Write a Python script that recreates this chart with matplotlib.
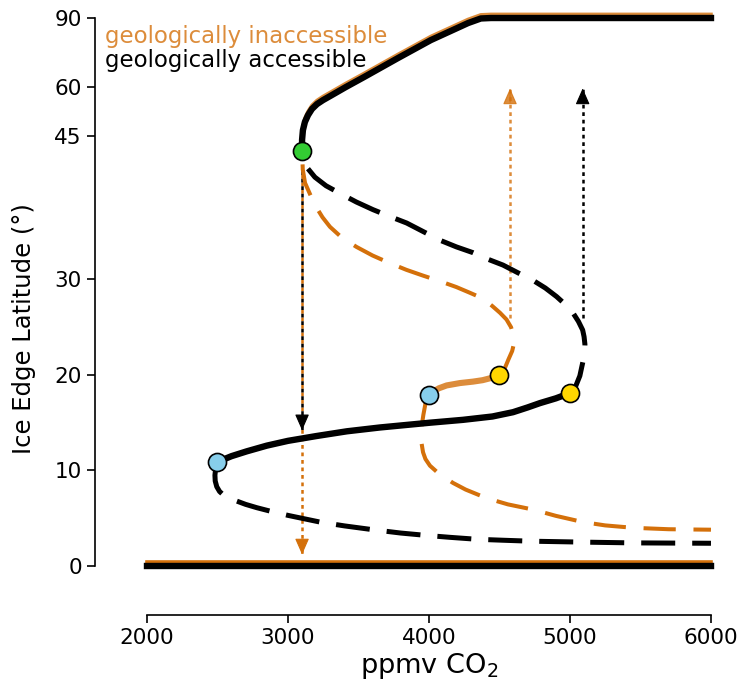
import numpy as np
import matplotlib.pyplot as plt
import matplotlib.transforms as mtransforms

# ice-edge latitude is drawn linearly up to 45 deg and squeezed above that
LAT_KNOTS = [0, 45, 60, 90]
LAT_POS = [0, 45, 50.13, 57.36]

def lat_fwd(y):
    y = np.asarray(y, dtype=float)
    out = np.interp(y, LAT_KNOTS, LAT_POS)
    out = np.where(y < 0, y, out)
    return np.where(y > 90, LAT_POS[-1] + (y - 90) * 0.241, out)

def lat_inv(p):
    p = np.asarray(p, dtype=float)
    out = np.interp(p, LAT_POS, LAT_KNOTS)
    out = np.where(p < 0, p, out)
    return np.where(p > LAT_POS[-1], 90 + (p - LAT_POS[-1]) / 0.241, out)

# warm branch (same for both cases) and the snowball branch
warm_co2 = [3100, 3100, 3106, 3120, 3142, 3170, 3206, 3248, 3305, 3410, 3538, 3780,
            4013, 4277, 4368, 4440, 6000]
warm_lat = [43.4, 44.6, 46.8, 49.3, 51.4, 53.3, 54.8, 56.0, 57.4, 60.0, 64.3, 72.6,
            80.4, 87.8, 89.8, 90.0, 90.0]
snow_co2 = [2000, 6000]
snow_lat = [0, 0]

# geologically accessible (black)
acc_stable_co2 = [2500, 2600, 2707, 2850, 3000, 3200, 3418, 3652, 4007, 4241, 4450,
                  4596, 4700, 4787, 4900, 5000]
acc_stable_lat = [10.9, 11.5, 12.0, 12.6, 13.1, 13.6, 14.1, 14.5, 15.0, 15.3, 15.65,
                  16.1, 16.6, 17.05, 17.55, 18.1]
acc_low_co2 = [2500, 2487, 2482, 2484, 2495, 2515, 2545, 2590, 2636, 2700, 2780, 2872,
               3000, 3227, 3400, 3603, 3800, 3983, 4150, 4338, 4520, 4716, 5092, 5447, 6000]
acc_low_lat = [10.9, 10.2, 9.5, 8.9, 8.3, 7.8, 7.4, 7.05, 6.8, 6.45, 6.1, 5.75,
               5.3, 4.6, 4.2, 3.8, 3.45, 3.2, 3.0, 2.8, 2.7, 2.6, 2.5, 2.42, 2.38]
acc_up_co2 = [5000, 5040, 5070, 5092, 5104, 5106, 5100, 5090, 5060, 5021, 4965, 4905,
              4825, 4738, 4630, 4525, 4420, 4312, 4195, 4078, 3960, 3842, 3720, 3603,
              3485, 3369, 3270, 3191, 3130, 3100]
acc_up_lat = [18.1, 18.8, 19.9, 21.4, 22.4, 23.2, 24.0, 24.7, 25.6, 26.5, 27.4, 28.2,
              29.1, 29.9, 30.7, 31.5, 32.1, 32.8, 33.4, 34.1, 35.0, 35.9, 36.6, 37.3,
              38.1, 39.0, 39.8, 40.7, 41.8, 43.4]

# geologically inaccessible (orange)
inacc_stable_co2 = [4000, 4030, 4070, 4125, 4220, 4312, 4380, 4433, 4500]
inacc_stable_lat = [17.9, 18.25, 18.6, 18.9, 19.15, 19.3, 19.45, 19.65, 20.0]
inacc_low_co2 = [4000, 3975, 3960, 3950, 3946, 3948, 3958, 3975, 4007, 4060, 4120,
                 4170, 4260, 4409, 4560, 4740, 4900, 5092, 5250, 5447, 5700, 6000]
inacc_low_lat = [17.9, 17.0, 15.8, 14.8, 13.8, 12.8, 11.9, 11.2, 10.5, 9.8, 9.2,
                 8.7, 8.0, 7.1, 6.45, 5.9, 5.25, 4.6, 4.25, 4.0, 3.85, 3.8]
inacc_up_co2 = [4500, 4535, 4563, 4590, 4603, 4598, 4582, 4550, 4504, 4450, 4383, 4290,
                4194, 4080, 3957, 3840, 3723, 3600, 3486, 3380, 3298, 3245, 3203, 3160,
                3121, 3105, 3100]
inacc_up_lat = [20.0, 20.6, 21.6, 22.5, 23.3, 24.2, 25.0, 25.8, 26.5, 27.2, 28.0, 28.6,
                29.2, 29.8, 30.4, 31.0, 31.7, 32.5, 33.4, 34.4, 35.5, 36.5, 37.5, 38.8,
                40.1, 41.5, 43.4]

# tipping points
green_pt = (3100, 43.4)
blue_pts = [(2500, 10.9), (4000, 17.9)]
yellow_pts = [(4500, 20.0), (5000, 18.1)]

# jumps: (co2, start lat, end lat)
jump_down_acc = (3100, 41.8, 14.2)
jump_down_inacc = (3100, 41.8, 1.2)
jump_up_acc = (5090, 26.0, 59.6)
jump_up_inacc = (4575, 26.0, 59.6)

ORANGE = '#d4700a'

fig = plt.figure(figsize=(7.43, 6.9), dpi=100)
ax = fig.add_axes([0.1978, 0.1797, 0.7591, 0.7942])
ax.set_yscale('function', functions=(lat_fwd, lat_inv))

orange_tr = mtransforms.offset_copy(ax.transData, fig=fig, x=0, y=2.6, units='points')

# stable branches
ax.plot(warm_co2, warm_lat, color=ORANGE, alpha=0.8, lw=2.6, transform=orange_tr,
        clip_on=False, zorder=2)
ax.plot(snow_co2, snow_lat, color=ORANGE, lw=2.6, transform=orange_tr, clip_on=False, zorder=2)
ax.plot(warm_co2, warm_lat, color='black', lw=4.6, clip_on=False, zorder=3)
ax.plot(snow_co2, snow_lat, color='black', lw=4.6, clip_on=False, zorder=3)
ax.plot(acc_stable_co2, acc_stable_lat, color='black', lw=4.6, zorder=3)
ax.plot(inacc_stable_co2, inacc_stable_lat, color=ORANGE, alpha=0.8, lw=4.4, zorder=3)

# unstable branches
ax.plot(acc_low_co2, acc_low_lat, color='black', lw=3.6, ls=(0, (6.8, 3.4)), zorder=2)
ax.plot(acc_up_co2, acc_up_lat, color='black', lw=3.6, ls=(0, (6.8, 3.4)), zorder=2)
ax.plot(inacc_low_co2, inacc_low_lat, color=ORANGE, lw=2.9, ls=(0, (8.0, 4.4)), zorder=2)
ax.plot(inacc_up_co2, inacc_up_lat, color=ORANGE, lw=2.9, ls=(0, (8.0, 4.4)), zorder=2)

# jumps between branches: dotted shaft plus a solid head
def jump(j, color, alpha=1.0, offset=0):
    x, y0, y1 = j
    ax.plot([x, x], [y0, y1], color=color, alpha=alpha, lw=1.8,
            ls=(offset, (1.5, 1.5)), zorder=1)
    sign = -1 if y1 > y0 else 1
    ax.annotate('', xy=(x, y1), xytext=(0, sign * 10), textcoords='offset points',
                arrowprops=dict(arrowstyle='-|>,head_length=0.5,head_width=0.22',
                                color=color, alpha=alpha, lw=0.8,
                                mutation_scale=20, shrinkA=0, shrinkB=0),
                zorder=1)

jump(jump_down_inacc, ORANGE)
jump(jump_down_acc, 'black', offset=1.5)
jump(jump_up_inacc, ORANGE, alpha=0.8)
jump(jump_up_acc, 'black')

ax.plot(*green_pt, 'o', ms=13, mfc='#33cc33', mec='black', mew=1.2, zorder=5)
for p in blue_pts:
    ax.plot(*p, 'o', ms=13, mfc='#87ceeb', mec='black', mew=1.2, zorder=5)
for p in yellow_pts:
    ax.plot(*p, 'o', ms=13, mfc='#ffd700', mec='black', mew=1.2, zorder=5)

ax.set_xlim(2000, 6000)
ax.set_ylim(0, 90)
ax.set_xticks([2000, 3000, 4000, 5000, 6000])
ax.set_yticks([0, 10, 20, 30, 45, 60, 90])
ax.set_yticklabels(['0', '10', '20', '30', '45', '60', '90'])
ax.minorticks_off()

for side in ['top', 'right']:
    ax.spines[side].set_visible(False)
ax.spines['left'].set_position(('outward', 37.4))
ax.spines['bottom'].set_position(('outward', 35.3))
ax.spines['left'].set_bounds(0, 90)
ax.spines['bottom'].set_bounds(2000, 6000)
for side in ['left', 'bottom']:
    ax.spines[side].set_linewidth(1.2)
ax.tick_params(direction='out', length=6, width=1.2, labelsize=15.5)

ax.set_xlabel('ppmv CO$_2$', fontsize=19.5)
ax.set_ylabel('Ice Edge Latitude (°)', fontsize=17.5)
ax.yaxis.set_label_coords(-0.197, 0.434)
ax.xaxis.set_label_coords(0.5, -0.155)

ax.text(-0.0745, 0.967, 'geologically inaccessible', color=ORANGE, alpha=0.8,
        fontsize=16.5, transform=ax.transAxes, va='center', ha='left')
ax.text(-0.0745, 0.923, 'geologically accessible', color='black',
        fontsize=16.5, transform=ax.transAxes, va='center', ha='left')

fig.savefig('out.png', dpi=100)
